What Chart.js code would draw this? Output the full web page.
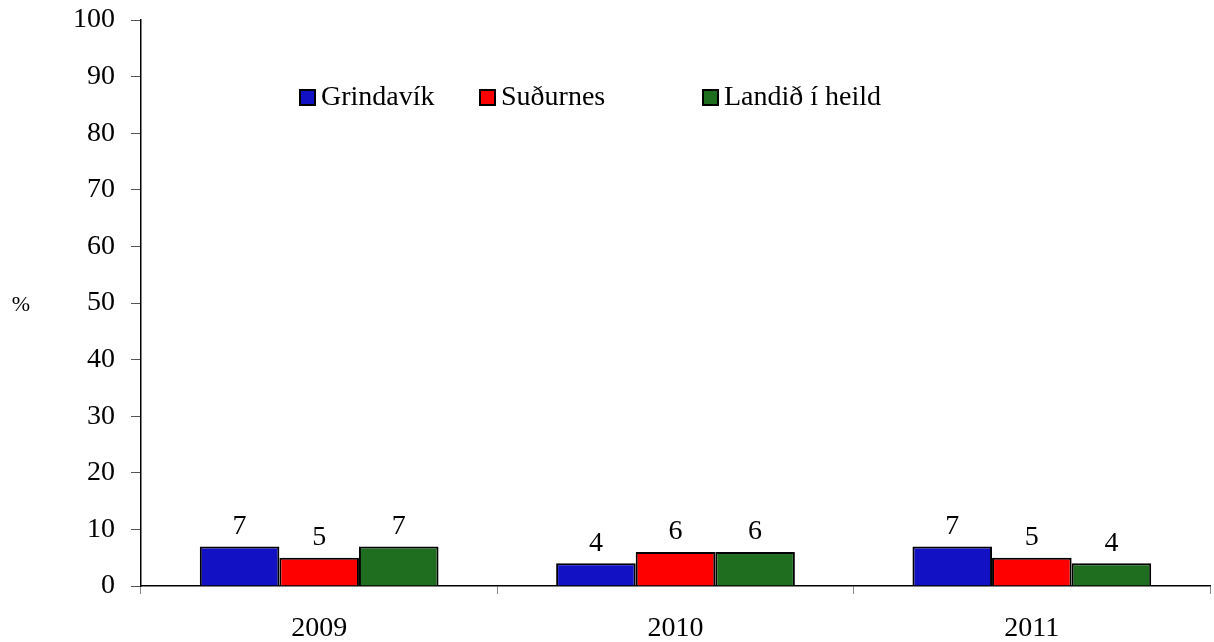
<!DOCTYPE html>
<html>
<head>
<meta charset="utf-8">
<script src="https://cdn.jsdelivr.net/npm/chart.js@4/dist/chart.umd.min.js"></script>
<style>
  html, body { margin: 0; padding: 0; background: #fff; }
  #wrap { width: 1214px; height: 642px; position: relative; }
</style>
</head>
<body>
<div id="wrap"><canvas id="c" width="1214" height="642"></canvas></div>
<script>
const categories = ['2009', '2010', '2011'];
const seriesNames = ['Grindavík', 'Suðurnes', 'Landið í heild'];
const grindavik = [7, 4, 7];
const sudurnes = [5, 6, 5];
const landid = [7, 6, 4];
const yTicks = [0, 10, 20, 30, 40, 50, 60, 70, 80, 90, 100];
const yUnit = '%';

const colors = ['#1212C4', '#FF0000', '#1F6E1F'];

const serif = '"Liberation Serif", "Times New Roman", serif';

const labelPlugin = {
  id: 'valueLabels',
  afterDatasetsDraw(chart) {
    const ctx = chart.ctx;
    ctx.save();
    ctx.fillStyle = '#000';
    ctx.font = '28px ' + serif;
    ctx.textAlign = 'center';
    ctx.textBaseline = 'middle';
    chart.data.datasets.forEach((ds, di) => {
      const meta = chart.getDatasetMeta(di);
      meta.data.forEach((bar, i) => {
        ctx.fillText(String(ds.data[i]), bar.x, bar.y - 20);
      });
    });
    ctx.restore();
  }
};

const legendPlugin = {
  id: 'innerLegend',
  afterDraw(chart) {
    const ctx = chart.ctx;
    ctx.save();
    ctx.font = '28px ' + serif;
    ctx.textBaseline = 'middle';
    ctx.textAlign = 'left';
    const y = 97;
    const starts = [300, 480, 703];
    chart.data.datasets.forEach((ds, di) => {
      const x = starts[di];
      ctx.fillStyle = ds.backgroundColor;
      ctx.fillRect(x, y - 7, 15, 15);
      ctx.strokeStyle = '#000';
      ctx.lineWidth = 2;
      ctx.strokeRect(x, y - 7, 15, 15);
      ctx.fillStyle = '#000';
      ctx.fillText(ds.label, x + 21, y + 1);
    });
    // unit label
    ctx.font = '22px ' + serif;
    ctx.textAlign = 'center';
    ctx.fillText(yUnit, 21, 305);
    ctx.restore();
  }
};

new Chart(document.getElementById('c'), {
  type: 'bar',
  data: {
    labels: categories,
    datasets: [
      { label: seriesNames[0], data: grindavik, backgroundColor: colors[0] },
      { label: seriesNames[1], data: sudurnes, backgroundColor: colors[1] },
      { label: seriesNames[2], data: landid, backgroundColor: colors[2] }
    ].map(d => Object.assign(d, { borderColor: '#000', borderWidth: 2, categoryPercentage: 0.67, barPercentage: 1.0 }))
  },
  options: {
    responsive: false,
    animation: false,
    devicePixelRatio: 1,
    layout: { padding: { left: 0, right: 4, top: 20, bottom: 0 } },
    plugins: { legend: { display: false }, tooltip: { enabled: false } },
    scales: {
      x: {
        offset: true,
        border: { color: '#000', width: 1.5 },
        grid: { display: true, drawOnChartArea: false, drawTicks: true, tickLength: 8, color: '#888', offset: true },
        ticks: { color: '#000', font: { family: serif, size: 28 }, padding: 18 },
        afterFit(scale) { scale.height = 56; scale.paddingLeft = 0; scale.paddingRight = 0; }
      },
      y: {
        min: 0, max: 100,
        afterBuildTicks(scale) { scale.ticks = yTicks.map(v => ({ value: v })); },
        border: { color: '#000', width: 1.5 },
        grid: { display: true, drawOnChartArea: false, drawTicks: true, tickLength: 10, color: '#555' },
        ticks: { color: '#000', font: { family: serif, size: 28 }, padding: 16 },
        afterFit(scale) { scale.width = 141; scale.paddingTop = 0; scale.paddingBottom = 0; }
      }
    }
  },
  plugins: [labelPlugin, legendPlugin]
});
</script>
</body>
</html>
